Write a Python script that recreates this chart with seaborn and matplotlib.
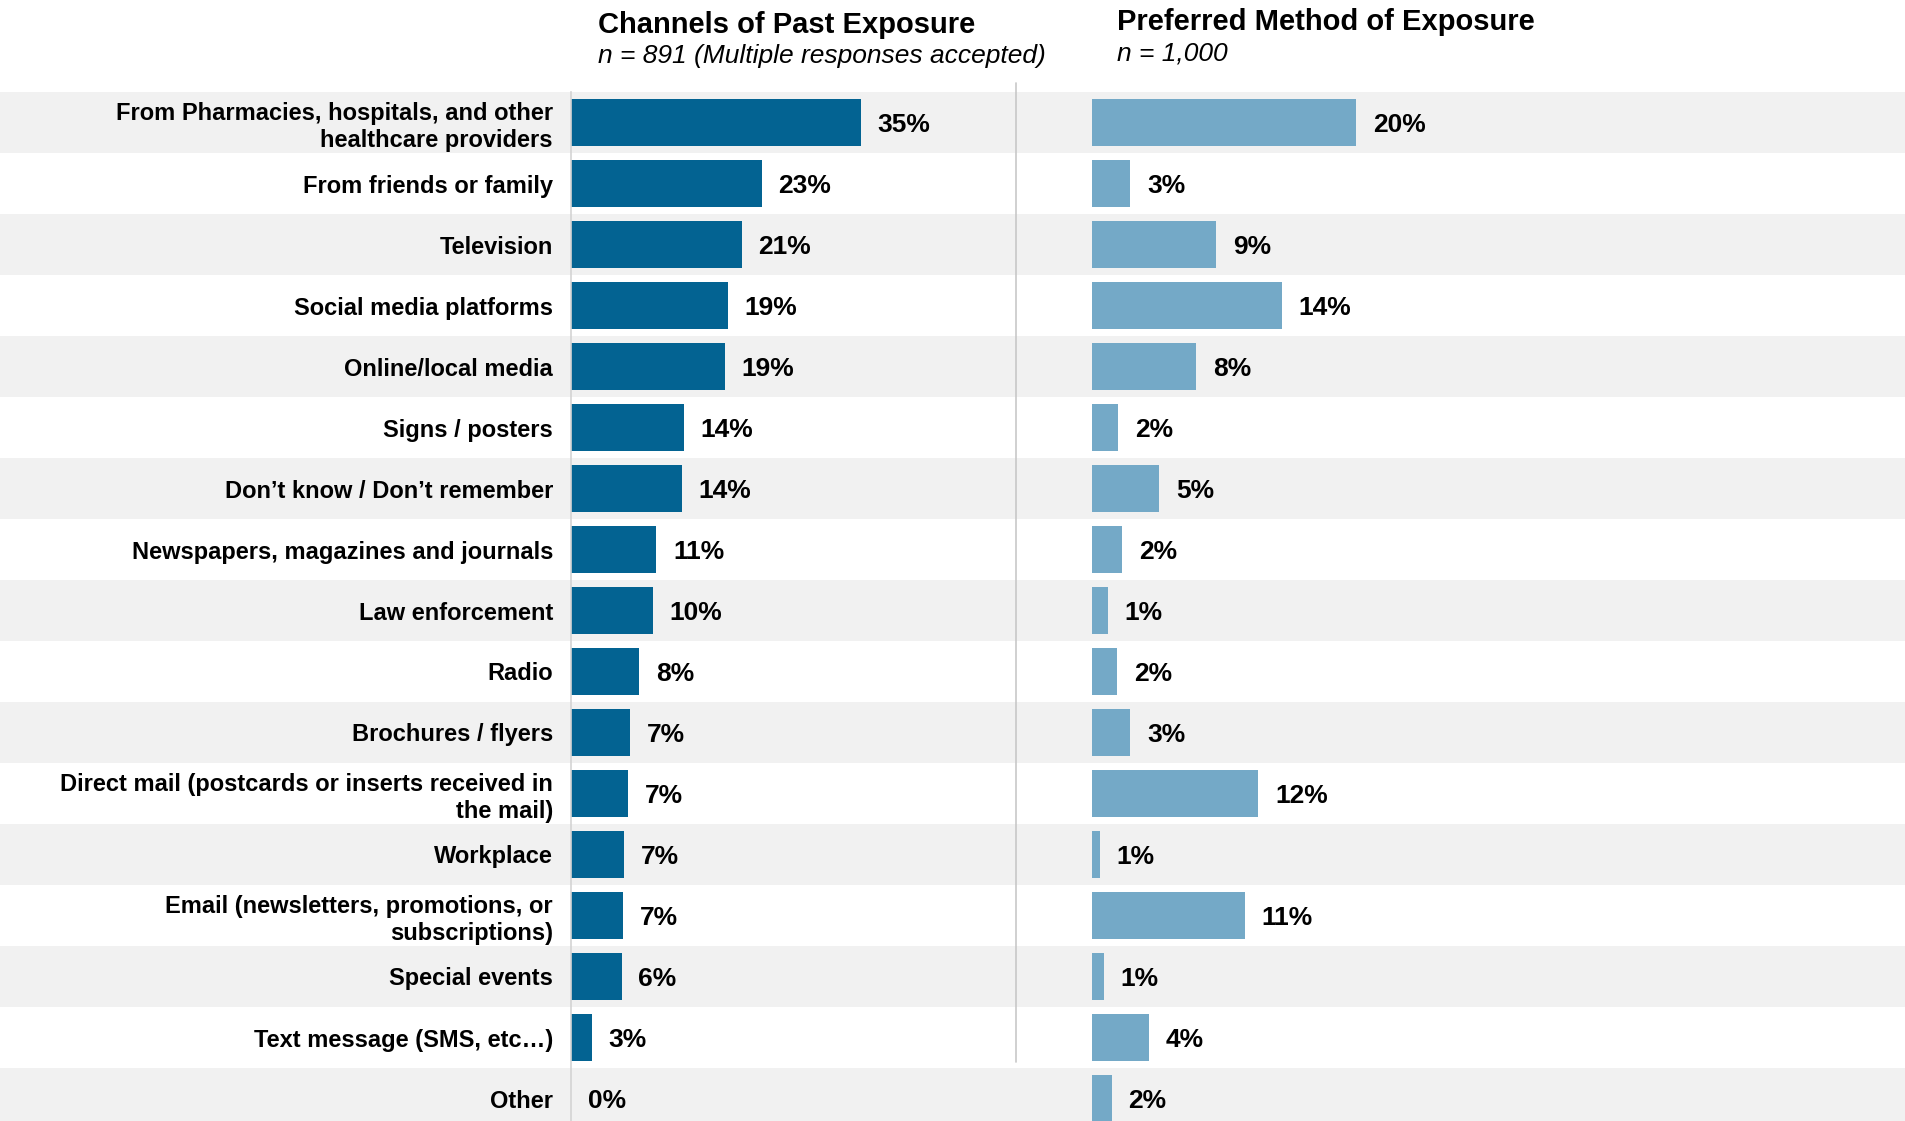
import numpy as np
import pandas as pd
import matplotlib.pyplot as plt
import seaborn as sns
from matplotlib.lines import Line2D

# Dados
canais = [
    "From Pharmacies, hospitals, and other\nhealthcare providers",
    "From friends or family",
    "Television",
    "Social media platforms",
    "Online/local media",
    "Signs / posters",
    "Don\u2019t know / Don\u2019t remember",
    "Newspapers, magazines and journals",
    "Law enforcement",
    "Radio",
    "Brochures / flyers",
    "Direct mail (postcards or inserts received in\nthe mail)",
    "Workplace",
    "Email (newsletters, promotions, or\nsubscriptions)",
    "Special events",
    "Text message (SMS, etc\u2026)",
    "Other",
]
exposicao_passada = [35.0, 23.0, 20.6, 18.9, 18.6, 13.6, 13.4, 10.3, 9.9, 8.2,
                     7.1, 6.9, 6.4, 6.3, 6.1, 2.5, 0.0]
rotulos_passada = [35, 23, 21, 19, 19, 14, 14, 11, 10, 8, 7, 7, 7, 7, 6, 3, 0]
metodo_preferido = [20.0, 2.9, 9.4, 14.4, 7.9, 2.0, 5.1, 2.3, 1.2, 1.9,
                    2.9, 12.6, 0.6, 11.6, 0.9, 4.3, 1.5]
rotulos_preferido = [20, 3, 9, 14, 8, 2, 5, 2, 1, 2, 3, 12, 1, 11, 1, 4, 2]

titulo_esq = "Channels of Past Exposure"
sub_esq = "n = 891 (Multiple responses accepted)"
titulo_dir = "Preferred Method of Exposure"
sub_dir = "n = 1,000"

df = pd.DataFrame({"canal": canais, "passada": exposicao_passada,
                   "preferido": metodo_preferido})

sns.set_theme(style="white")
plt.rcParams['font.family'] = ['Liberation Sans', 'DejaVu Sans']
plt.rcParams['text.color'] = 'black'

W, H = 1905, 1121
azul_escuro = "#036392"
azul_claro = "#74a9c7"
cinza_faixa = "#f1f1f1"

fig = plt.figure(figsize=(W / 100, H / 100), dpi=100)
topo = 1 - 92 / H
y_inf = -0.5 + (H - 92) / 61.0

# faixas alternadas
fundo = fig.add_axes([0, 0, 1, topo])
fundo.set_xlim(0, 1)
fundo.set_ylim(y_inf, -0.5)
for i in range(0, len(canais), 2):
    fundo.axhspan(i - 0.5, i + 0.5, color=cinza_faixa, lw=0)
fundo.axis('off')

ax1 = fig.add_axes([571 / W, 0, (1016 - 571) / W, topo])
ax2 = fig.add_axes([1092 / W, 0, (W - 1092) / W, topo])

sns.barplot(data=df, x="passada", y="canal", ax=ax1, color=azul_escuro,
            width=0.76, orient="h", saturation=1, linewidth=0)
sns.barplot(data=df, x="preferido", y="canal", ax=ax2, color=azul_claro,
            width=0.76, orient="h", saturation=1, linewidth=0)

ax1.set_xlim(0, (1016 - 571) / 8.29)
ax2.set_xlim(0, (W - 1092) / 13.2)

for ax, rot in [(ax1, rotulos_passada), (ax2, rotulos_preferido)]:
    ax.set_ylim(y_inf, -0.5)
    ax.patch.set_alpha(0)
    ax.set_xlabel("")
    ax.set_ylabel("")
    ax.set_xticks([])
    for s in ax.spines.values():
        s.set_visible(False)
    txts = ax.bar_label(ax.containers[0], labels=[f"{v}%" for v in rot],
                        padding=12, fontsize=19, fontweight='bold',
                        color='black')
    for t in txts:
        t.set_va('center_baseline')

ax1.spines['left'].set_visible(True)
ax1.spines['left'].set_color('#d4d4d4')
ax1.spines['left'].set_linewidth(1.2)
ax1.tick_params(axis='y', length=0, pad=13)
for t in ax1.get_yticklabels():
    t.set_fontsize(17)
    t.set_fontweight('bold')
    t.set_color('black')
ax2.set_yticks([])

# linha divisória central
fig.add_artist(Line2D([1016 / W, 1016 / W], [1 - 83 / H, 1 - 1062 / H],
                      color='#c8c8c8', lw=1.2, transform=fig.transFigure))

# títulos
fig.text(598 / W, 1 - 25 / H, titulo_esq, fontsize=21, fontweight='bold',
         va='center', ha='left', color='black')
fig.text(598 / W, 1 - 56 / H, sub_esq, fontsize=19, style='italic',
         va='center', ha='left', color='black')
fig.text(1117 / W, 1 - 22 / H, titulo_dir, fontsize=21, fontweight='bold',
         va='center', ha='left', color='black')
fig.text(1117 / W, 1 - 53 / H, sub_dir, fontsize=19, style='italic',
         va='center', ha='left', color='black')

fig.savefig("out.png", dpi=100)
